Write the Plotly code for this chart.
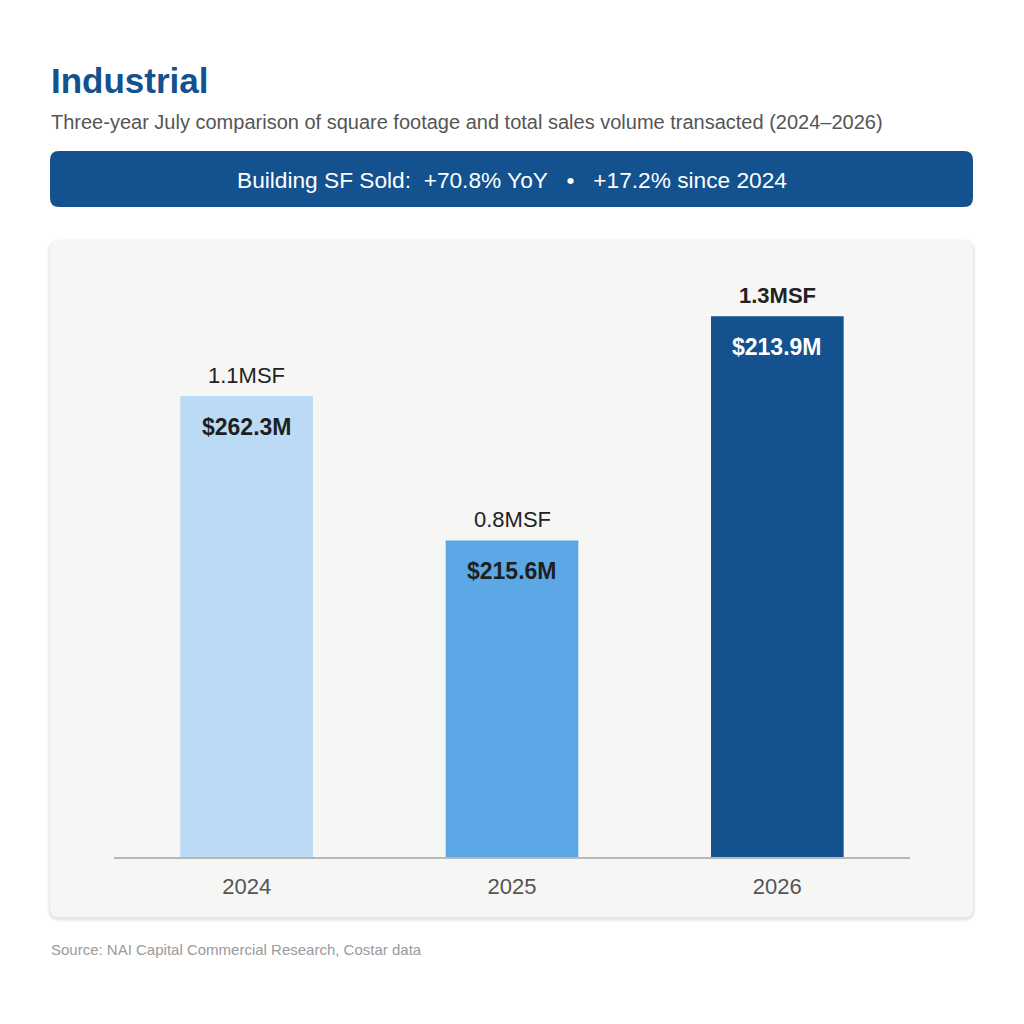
import plotly.graph_objects as go

# ---- data ----
years = ["2024", "2025", "2026"]
sf_msf = [1.108, 0.761, 1.30]          # building SF sold (million SF)
sf_labels = ["1.1MSF", "0.8MSF", "1.3MSF"]
volume_labels = ["$262.3M", "$215.6M", "$213.9M"]
bar_colors = ["#bbdaf5", "#5ca8e6", "#13528f"]
inside_text_colors = ["#1f1f1f", "#1f1f1f", "#ffffff"]
outside_bold = [False, False, True]

title = "Industrial"
subtitle = "Three-year July comparison of square footage and total sales volume transacted (2024–2026)"
banner = "Building SF Sold:  +70.8% YoY   •   +17.2% since 2024"
source = "Source: NAI Capital Commercial Research, Costar data"

W = H = 1024
FONT = "Liberation Sans, Arial, sans-serif"


def px(x):
    return x / W


def py(y):
    return 1 - y / H


def rounded_rect(x0, y0, x1, y1, r):
    X0, X1 = px(x0), px(x1)
    Y0, Y1 = py(y0), py(y1)
    rx, ry = r / W, r / H
    return (f"M {X0+rx},{Y0} L {X1-rx},{Y0} Q {X1},{Y0} {X1},{Y0-ry} "
            f"L {X1},{Y1+ry} Q {X1},{Y1} {X1-rx},{Y1} L {X0+rx},{Y1} "
            f"Q {X0},{Y1} {X0},{Y1+ry} L {X0},{Y0-ry} Q {X0},{Y0} {X0+rx},{Y0} Z")


fig = go.Figure()
fig.add_trace(go.Bar(
    x=years, y=sf_msf,
    marker=dict(color=bar_colors, line=dict(width=0)),
    hoverinfo="skip",
))

shapes = []
for i, op in enumerate([0.025, 0.03, 0.04]):
    g = 3 - i
    shapes.append(dict(type="path", xref="paper", yref="paper", layer="below",
                       path=rounded_rect(50 - g, 240 - g + 2, 973 + g, 917 + g + 2, 10 + g),
                       fillcolor=f"rgba(0,0,0,{op})", line=dict(width=0)))
shapes.append(dict(type="path", xref="paper", yref="paper", layer="below",
                   path=rounded_rect(50, 240, 973, 917, 9),
                   fillcolor="#f6f6f5", line=dict(width=0)))
shapes.append(dict(type="path", xref="paper", yref="paper", layer="below",
                   path=rounded_rect(50, 151, 973, 207, 9),
                   fillcolor="#13528f", line=dict(width=0)))

annotations = [
    dict(text=f"<b>{title}</b>", xref="paper", yref="paper", x=px(49), y=py(80),
         xanchor="left", yanchor="middle", showarrow=False,
         font=dict(family=FONT, size=35, color="#13528f")),
    dict(text=subtitle, xref="paper", yref="paper", x=px(49), y=py(122),
         xanchor="left", yanchor="middle", showarrow=False,
         font=dict(family=FONT, size=20, color="#555555")),
    dict(text=banner, xref="paper", yref="paper", x=px(511.5), y=py(180),
         xanchor="center", yanchor="middle", showarrow=False,
         font=dict(family=FONT, size=22.7, color="#ffffff")),
    dict(text=source, xref="paper", yref="paper", x=px(49), y=py(949),
         xanchor="left", yanchor="middle", showarrow=False,
         font=dict(family=FONT, size=15, color="#9a9a9a")),
]

for i, (v, sl, vl, tc, b) in enumerate(zip(sf_msf, sf_labels, volume_labels,
                                           inside_text_colors, outside_bold)):
    annotations.append(dict(text=f"<b>{sl}</b>" if b else sl, xref="x", yref="y",
                            x=i, y=v, yanchor="bottom", yshift=6, showarrow=False,
                            font=dict(family=FONT, size=22, color="#222222")))
    annotations.append(dict(text=f"<b>{vl}</b>", xref="x", yref="y",
                            x=i, y=v, yanchor="top", yshift=-16, showarrow=False,
                            font=dict(family=FONT, size=23, color=tc)))

fig.update_layout(
    width=W, height=H,
    margin=dict(l=0, r=0, t=0, b=0, pad=0, autoexpand=False),
    paper_bgcolor="#ffffff",
    plot_bgcolor="rgba(0,0,0,0)",
    bargap=0.5,
    showlegend=False,
    shapes=shapes,
    annotations=annotations,
    xaxis=dict(type="category", domain=[px(114), px(910)], range=[-0.5, 2.5],
               autorange=False, showline=True,
               linecolor="#b8b8b8", linewidth=2, showgrid=False, zeroline=False,
               ticks="", ticklabelstandoff=9, fixedrange=True,
               tickfont=dict(family=FONT, size=22, color="#555555")),
    yaxis=dict(domain=[py(857), py(260)], range=[0, 597 / 416], autorange=False,
               visible=False, showgrid=False, zeroline=False, fixedrange=True),
)

fig.write_html("out.html", config={"displayModeBar": False},
               post_script="document.body.style.margin='0';")
